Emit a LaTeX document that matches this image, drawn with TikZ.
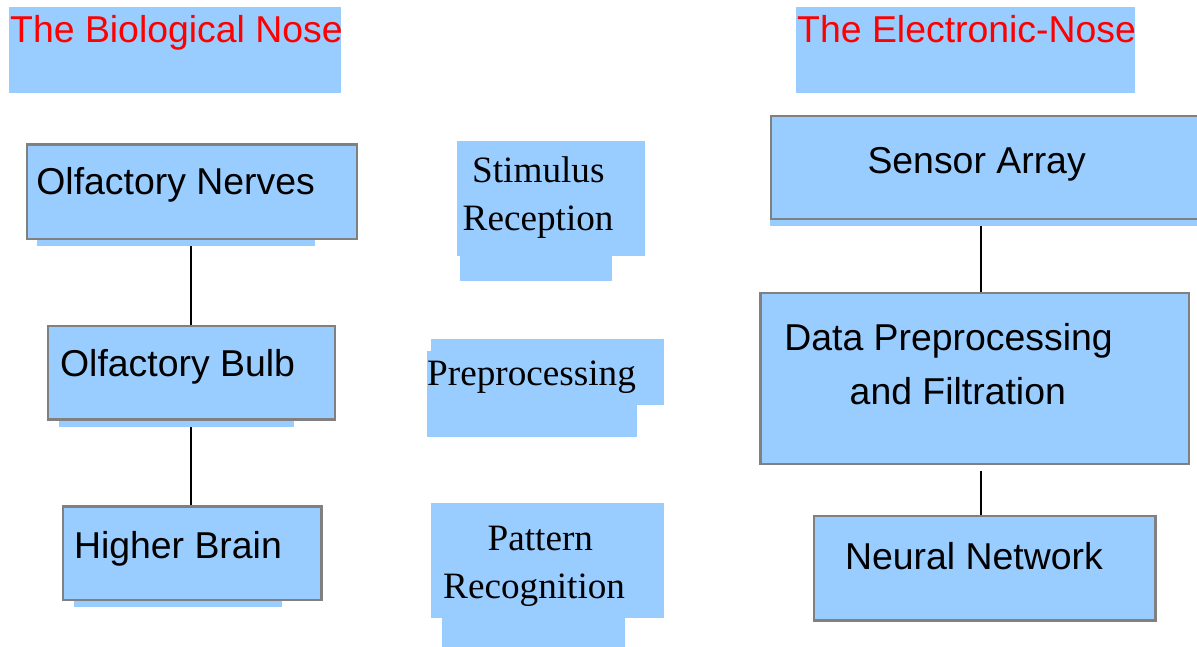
\documentclass[tikz,border=0pt]{standalone}
\usepackage{fontspec}
\setmainfont{Liberation Serif}
\newfontfamily\arial{Liberation Sans}
\usetikzlibrary{backgrounds}
\definecolor{boxfill}{HTML}{99CCFF}
\definecolor{boxline}{HTML}{808080}
\definecolor{titlered}{HTML}{FF0000}
\begin{document}
\begin{tikzpicture}[x=1pt,y=-1pt,
  panel/.style={fill=boxfill, draw=none, inner sep=0pt, outer sep=0pt, anchor=north west},
  framed/.style={fill=boxfill, draw=boxline, line width=2.4pt, inner sep=0pt, outer sep=0pt, anchor=north west},
  sanslabel/.style={font=\arial\fontsize{37.4}{44}\selectfont, inner sep=0pt, anchor=base west, text=black},
  seriflabel/.style={font=\fontsize{37.2}{44}\selectfont, inner sep=0pt, anchor=base west, text=black},
  titlelabel/.style={sanslabel, text=titlered},
  link/.style={draw=black, line width=2pt}]
\useasboundingbox (0,0) rectangle (1197,647);
\clip (0,0) rectangle (1197,647);

% headings
\node[panel, minimum width=332pt, minimum height=85.7pt] (bioHead) at (9,7) {};
\node[titlelabel] (bioTitle) at (10,43) {The Biological Nose};
\node[panel, minimum width=339pt, minimum height=85.7pt] (eHead) at (796,7) {};
\node[titlelabel] (eTitle) at (797,43) {The Electronic-Nose};

% biological chain
\node[panel, minimum width=278pt, minimum height=7.7pt] (nervesStrip) at (37,238) {};
\node[framed, minimum width=329.6pt, minimum height=94.3pt] (nerves) at (27.2,144.5) {};
\node[sanslabel] (nervesText) at (36.2,195) {Olfactory Nerves};

\node[panel, minimum width=235pt, minimum height=7.7pt] (bulbStrip) at (59,419) {};
\node[framed, minimum width=286.9pt, minimum height=93.6pt] (bulb) at (47.9,325.9) {};
\node[sanslabel] (bulbText) at (59.9,376) {Olfactory Bulb};

\node[panel, minimum width=208pt, minimum height=7.3pt] (brainStrip) at (74,600) {};
\node[framed, minimum width=258.3pt, minimum height=93.6pt] (brain) at (63.2,506.5) {};
\node[sanslabel] (brainText) at (73.8,558.7) {Higher Brain};

% stage labels
\node[panel, minimum width=188.3pt, minimum height=115pt] (stimA) at (456.7,141) {};
\node[panel, minimum width=152pt, minimum height=25.7pt] (stimB) at (460,255) {};
\node[seriflabel] (stimText1) at (472,182.5) {Stimulus};
\node[seriflabel] (stimText2) at (462.5,230.8) {Reception};

\node[panel, minimum width=233pt, minimum height=66pt] (prepA) at (431,339) {};
\node[panel, minimum width=210.3pt, minimum height=86pt] (prepB) at (426.7,350.7) {};
\node[seriflabel] (prepText) at (427,385.8) {Preprocessing};

\node[panel, minimum width=233pt, minimum height=115pt] (patA) at (431,502.7) {};
\node[panel, minimum width=182.7pt, minimum height=29.7pt] (patB) at (442,617) {};
\node[seriflabel] (patText1) at (487.5,550) {Pattern};
\node[seriflabel] (patText2) at (443,598) {Recognition};

% electronic chain
\node[panel, minimum width=440pt, minimum height=7.7pt] (sensorStrip) at (770,218) {};
\node[framed, minimum width=438.8pt, minimum height=102.6pt] (sensor) at (771.2,116.2) {};
\node[sanslabel] (sensorText) at (867.3,173.7) {Sensor Array};

\node[framed, minimum width=428.3pt, minimum height=170.9pt] (data) at (760.5,292.9) {};
\node[sanslabel] (dataText1) at (784.1,350.3) {Data Preprocessing};
\node[sanslabel] (dataText2) at (849.5,404.3) {and Filtration};

\node[framed, minimum width=341.6pt, minimum height=104.3pt] (neural) at (813.9,516.2) {};
\node[sanslabel] (neuralText) at (844.9,569.3) {Neural Network};

% connectors
\coordinate (lx) at (191,0);
\coordinate (rx) at (980.7,0);
\begin{scope}[on background layer]
\draw[link] (nervesStrip.south -| lx) -- (bulb.north -| lx);
\draw[link] (bulbStrip.south -| lx) -- (brain.north -| lx);
\draw[link] (sensorStrip.south -| rx) -- (data.north -| rx);
\draw[link] (data.south -| rx) ++(0,7) -- (neural.north -| rx);
\end{scope}
\end{tikzpicture}
\end{document}
